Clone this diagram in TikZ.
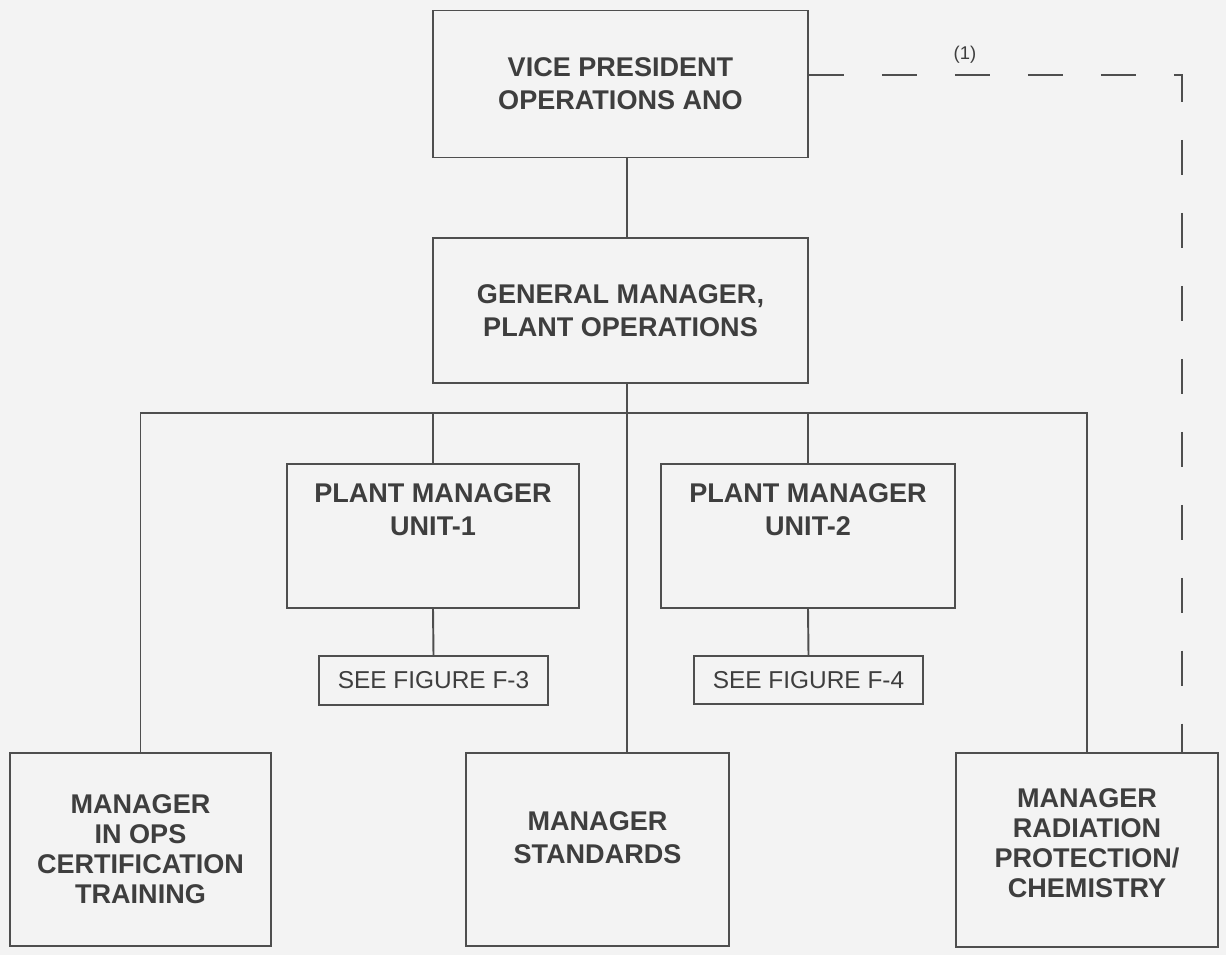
\documentclass[tikz,border=0pt]{standalone}
\usepackage{fontspec}
\setmainfont{Liberation Sans}
\usetikzlibrary{calc}
\definecolor{chartLine}{RGB}{78,78,78}
\definecolor{chartText}{RGB}{62,62,62}
\definecolor{chartPaper}{RGB}{243,243,243}
\tikzset{
  orgbox/.style={draw=chartLine,line width=1.1pt,inner sep=0pt,align=center,text=chartText,
    font=\fontsize{15.4}{18.8}\selectfont\bfseries},
  tallbox/.style={orgbox,font=\fontsize{15.4}{17.1}\selectfont\bfseries},
  refbox/.style={draw=chartLine,line width=1.1pt,inner sep=0pt,text=chartText,
    font=\fontsize{13.9}{16}\selectfont},
  orgline/.style={chartLine,line width=1.1pt},
  reportline/.style={chartLine,line width=1.1pt,dash pattern=on 0.7cm off 0.76cm},
}
\begin{document}
\begin{tikzpicture}[x=0.02cm,y=-0.02cm]
  \fill[chartPaper] (0,0) rectangle (1226,955);
  \useasboundingbox (0,0) rectangle (1226,955);
  % top of the chart
  \node[orgbox,minimum width=7.5cm,minimum height=2.94cm] (vp) at (620.5,84) {VICE PRESIDENT\\OPERATIONS ANO};
  \node[orgbox,minimum width=7.5cm,minimum height=2.9cm] (gm) at (620.5,310.5) {GENERAL MANAGER,\\PLANT OPERATIONS};
  % plant managers
  \node[orgbox,minimum width=5.84cm,minimum height=2.88cm,text height=11pt,text depth=11.9pt] (pmone) at (433,536) {PLANT MANAGER\\UNIT-1};
  \node[orgbox,minimum width=5.88cm,minimum height=2.88cm,text height=11pt,text depth=11.9pt] (pmtwo) at (808,536) {PLANT MANAGER\\UNIT-2};
  \node[refbox,minimum width=4.58cm,minimum height=0.98cm] (figthree) at (433.5,680.5) {SEE FIGURE F-3};
  \node[refbox,minimum width=4.58cm,minimum height=0.96cm] (figfour) at (808.5,680) {SEE FIGURE F-4};
  % bottom row
  \node[tallbox,minimum width=5.22cm,minimum height=3.86cm] (training) at (140.5,849.5) {MANAGER\\IN OPS\\CERTIFICATION\\TRAINING};
  \node[orgbox,minimum width=5.26cm,minimum height=3.86cm,text height=16.1pt,text depth=0pt] (standards) at (597.5,849.5) {MANAGER\\STANDARDS};
  \node[tallbox,minimum width=5.24cm,minimum height=3.88cm,text height=54.3pt,text depth=0pt] (radprot) at (1087,850) {MANAGER\\RADIATION\\PROTECTION/\\CHEMISTRY};
  \node[text=chartText,font=\fontsize{10.5}{12}\selectfont] (note) at (965,55) {(1)};
  % connectors
  \coordinate (bus) at (627,413);
  \draw[orgline] (bus |- vp.south) -- (bus |- gm.north);
  \draw[orgline] (bus |- gm.south) -- (bus |- standards.north);
  \draw[orgline] (training.north) -- (training.north |- bus) -- (radprot.north |- bus) -- (radprot.north);
  \draw[orgline] (pmone.north |- bus) -- (pmone.north);
  \draw[orgline] (pmtwo.north |- bus) -- (pmtwo.north);
  \draw[orgline] (pmone.south) -- (figthree.north);
  \draw[orgline] (pmtwo.south) -- (figfour.north);
  \draw[reportline] ($(vp.east)+(0,-9)$) -| ($(radprot.north)+(95,0)$);
\end{tikzpicture}
\end{document}
